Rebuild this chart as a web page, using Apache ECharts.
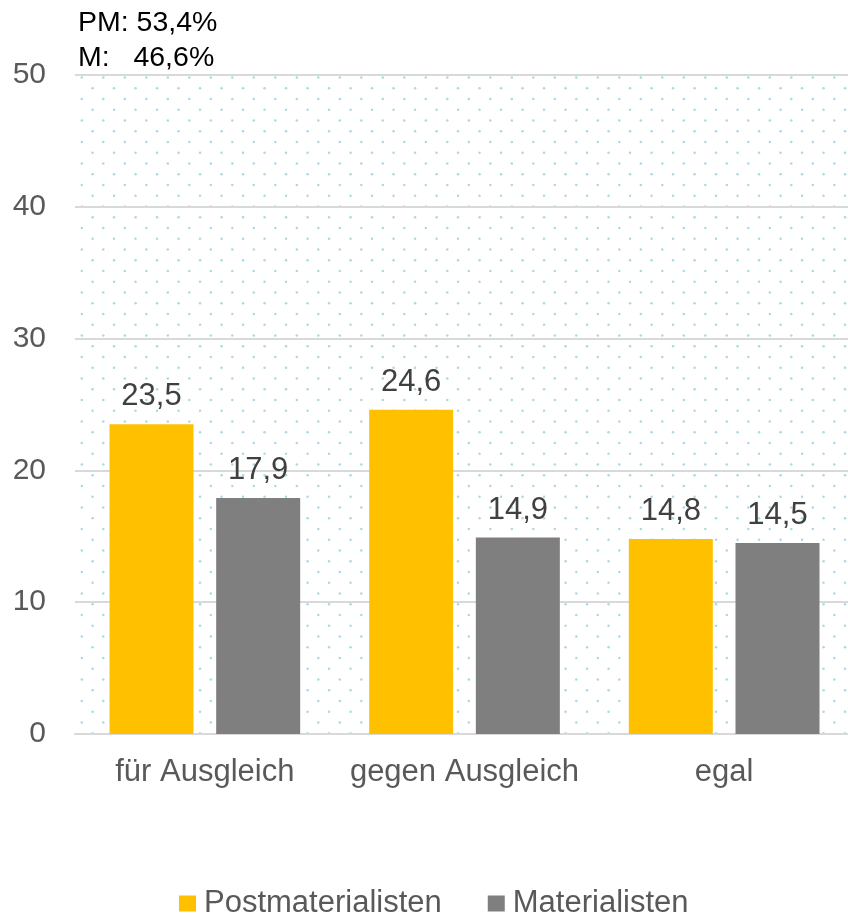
<!DOCTYPE html>
<html><head><meta charset="utf-8">
<script src="https://cdn.jsdelivr.net/npm/echarts@6/dist/echarts.min.js"></script>
<style>html,body{margin:0;padding:0;background:#fff}#c{width:848px;height:916px}</style>
</head><body><div id="c"></div>
<script>
const categories = ['für Ausgleich', 'gegen Ausgleich', 'egal'];
const postmaterialisten = [23.5, 24.6, 14.8];
const materialisten = [17.9, 14.9, 14.5];
const seriesNames = ['Postmaterialisten', 'Materialisten'];
const noteLines = ['PM: 53,4%', 'M:   46,6%'];

// dotted background pattern
const tile = document.createElement('canvas');
tile.width = 43; tile.height = 43;
const tc = tile.getContext('2d');
tc.fillStyle = '#a8dae1';
const dots = [[17.3,12.9],[38.8,12.9],[17.3,34.4],[38.8,34.4],[6.55,23.65],[28.05,23.65],[6.55,2.15],[28.05,2.15]];
dots.forEach(([x,y])=>{tc.beginPath();tc.arc(x,y,1.25,0,Math.PI*2);tc.fill();});

const FONT = '"Liberation Sans", Arial, sans-serif';
const chart = echarts.init(document.getElementById('c'), null, {renderer:'canvas'});
const fmt = p => String(p.value).replace('.', ',');
chart.setOption({
  animation: false,
  backgroundColor: '#ffffff',
  textStyle: {fontFamily: FONT},
  grid: {left: 75, top: 75, width: 779, height: 659, show: true, outerBoundsMode: 'none', containLabel: false,
         backgroundColor: {image: tile, repeat: 'repeat'}, borderWidth: 0},
  legend: {
    data: seriesNames, top: 883, left: 174, itemWidth: 17, itemHeight: 16, itemGap: 46,
    icon: 'rect',
    textStyle: {fontSize: 31, color: '#595959', fontFamily: FONT, padding: [0,0,0,3]}
  },
  graphic: [{
    type: 'text', left: 78, top: 6,
    style: {text: noteLines.join('\n'), fontSize: 28.5, lineHeight: 35, fill: '#000', fontFamily: FONT}
  }],
  xAxis: {
    type: 'category', data: categories,
    axisLine: {show: true, lineStyle: {color: '#d9d9d9', width: 2}},
    axisTick: {show: false},
    axisLabel: {fontSize: 31, color: '#595959', margin: 23, interval: 0, fontFamily: FONT}
  },
  yAxis: {
    type: 'value', min: 0, max: 50, interval: 10,
    axisLine: {show: false}, axisTick: {show: false},
    axisLabel: {fontSize: 30, color: '#595959', margin: 29, fontFamily: FONT},
    splitLine: {lineStyle: {color: '#d9d9d9', width: 2}}
  },
  series: [
    {name: seriesNames[0], type: 'bar', data: postmaterialisten, barWidth: 84, barGap: '27%',
     itemStyle: {color: '#FFC000'},
     label: {show: true, position: 'top', distance: 12, fontSize: 31, color: '#404040', formatter: fmt, fontFamily: FONT}},
    {name: seriesNames[1], type: 'bar', data: materialisten, barWidth: 84,
     itemStyle: {color: '#7F7F7F'},
     label: {show: true, position: 'top', distance: 12, fontSize: 31, color: '#404040', formatter: fmt, fontFamily: FONT}}
  ]
});
</script></body></html>
